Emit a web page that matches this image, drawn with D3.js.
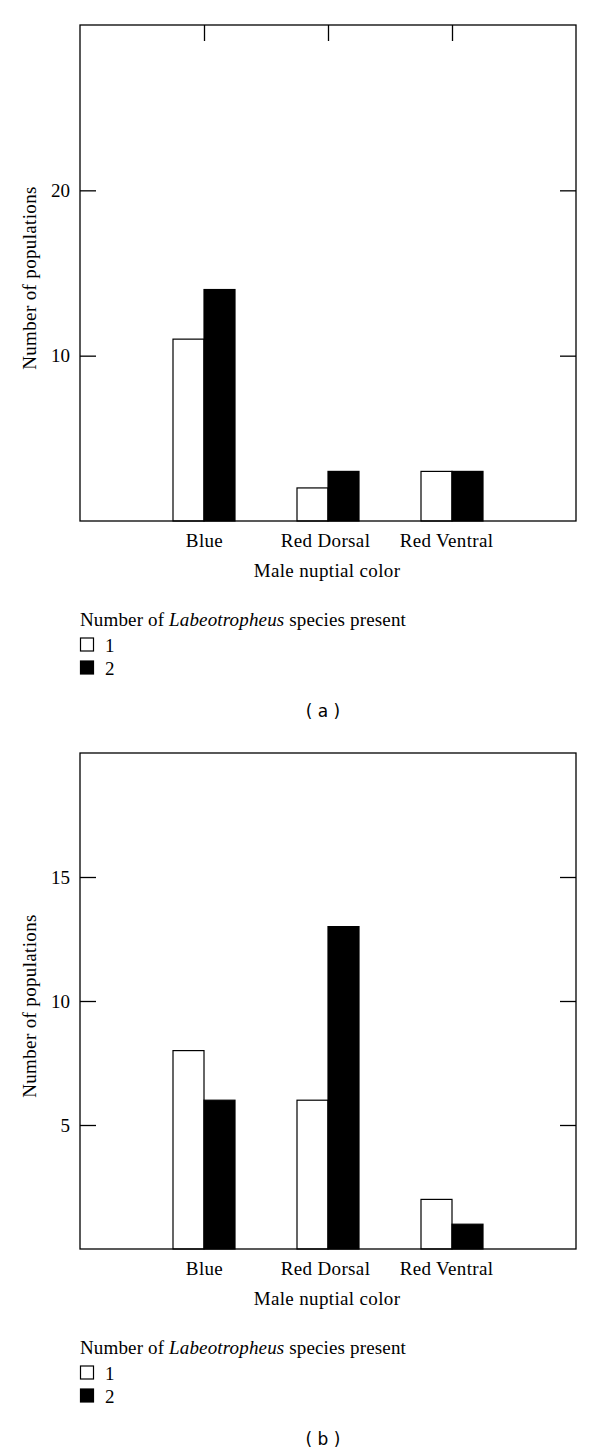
<!DOCTYPE html>
<html><head><meta charset="utf-8">
<script src="https://cdn.jsdelivr.net/npm/d3@7"></script>
<style>
body{margin:0;background:#fff;}
svg{display:block;}
text{font-family:"Liberation Serif","Times New Roman",serif;}
</style></head>
<body>
<svg id="chart" width="600" height="1456"></svg>
<script>
const categories = ["Blue", "Red Dorsal", "Red Ventral"];
const seriesNames = ["1", "2"];
const panelA_one = [11, 2, 3];
const panelA_two = [14, 3, 3];
const panelB_one = [8, 6, 2];
const panelB_two = [6, 13, 1];
const panelA_ticks = [10, 20];
const panelB_ticks = [5, 10, 15];
const panelA_max = 30;
const panelB_max = 20;
const panelLabels = ["( a )", "( b )"];

const svg = d3.select("#chart");
const W = 496, H = 496, left = 80;
const FS = 19, LS = "0.35px";

function drawPanel(top, one, two, ymax, ticks, topTicks, label) {
  const g = svg.append("g").attr("transform", `translate(${left},${top})`);
  const x = d3.scalePoint().domain(categories).range([0, W]).padding(1);
  const y = d3.scaleLinear().domain([0, ymax]).range([H, 0]);
  const bw = x.step() / 4;

  const rows = categories.map((c, i) => ({c, v: [one[i], two[i]]}));
  rows.forEach(r => {
    r.v.forEach((v, j) => {
      g.append("rect")
        .attr("x", x(r.c) - bw + j * bw)
        .attr("y", y(v))
        .attr("width", bw)
        .attr("height", H - y(v))
        .attr("fill", j === 0 ? "#fff" : "#000")
        .attr("stroke", "#000")
        .attr("stroke-width", 1.2);
    });
  });

  g.append("rect").attr("x", 0).attr("y", 0).attr("width", W).attr("height", H)
    .attr("fill", "none").attr("stroke", "#000").attr("stroke-width", 1.3);

  const ya = g.append("g").call(d3.axisLeft(y).tickValues(ticks).tickSize(-16).tickPadding(10).tickFormat(d3.format("d")));
  ya.select(".domain").remove();
  ya.selectAll("line").attr("stroke-width", 1.3);
  ya.selectAll("text").attr("font-size", FS).attr("font-family", "Liberation Serif");

  const yr = g.append("g").attr("transform", `translate(${W},0)`)
    .call(d3.axisRight(y).tickValues(ticks).tickSize(-16).tickFormat(""));
  yr.select(".domain").remove();
  yr.selectAll("line").attr("stroke-width", 1.3);

  if (topTicks) {
    const xt = g.append("g").call(d3.axisTop(x).tickSize(-16).tickFormat(""));
    xt.select(".domain").remove();
    xt.selectAll("line").attr("stroke-width", 1.3);
  }

  const xb = g.append("g").attr("transform", `translate(0,${H})`)
    .call(d3.axisBottom(x).tickSize(0).tickPadding(13));
  xb.select(".domain").remove();
  xb.selectAll("text").attr("font-size", FS).attr("font-family", "Liberation Serif").attr("letter-spacing", LS)
    .attr("dx", (d, i) => -3 * i);

  g.append("text").attr("x", W / 2 - 1).attr("y", H + 56)
    .attr("text-anchor", "middle").attr("font-size", FS).attr("letter-spacing", LS).text("Male nuptial color");

  g.append("text").attr("transform", `translate(-44,${253}) rotate(-90)`)
    .attr("text-anchor", "middle").attr("font-size", FS).attr("letter-spacing", LS).text("Number of populations");

  const lg = g.append("g").attr("transform", `translate(0,${H + 105})`);
  const t = lg.append("text").attr("x", 0).attr("y", 0).attr("font-size", FS).attr("letter-spacing", "0.15px");
  t.append("tspan").text("Number of ");
  t.append("tspan").attr("font-style", "italic").text("Labeotropheus");
  t.append("tspan").text(" species present");
  seriesNames.forEach((s, j) => {
    lg.append("rect").attr("x", 0.5).attr("y", 12 + j * 23).attr("width", 13).attr("height", 13)
      .attr("fill", j === 0 ? "#fff" : "#000").attr("stroke", "#000").attr("stroke-width", 1.2);
    lg.append("text").attr("x", 25).attr("y", 26 + j * 23).attr("font-size", FS).text(s);
  });

  g.append("text").attr("x", 243).attr("y", H + 196).attr("text-anchor", "middle")
    .attr("style", "font-family:'DejaVu Sans',sans-serif")
    .attr("font-size", 17).text(label);
}

drawPanel(25, panelA_one, panelA_two, panelA_max, panelA_ticks, true, panelLabels[0]);
drawPanel(753, panelB_one, panelB_two, panelB_max, panelB_ticks, false, panelLabels[1]);
</script>
</body></html>
